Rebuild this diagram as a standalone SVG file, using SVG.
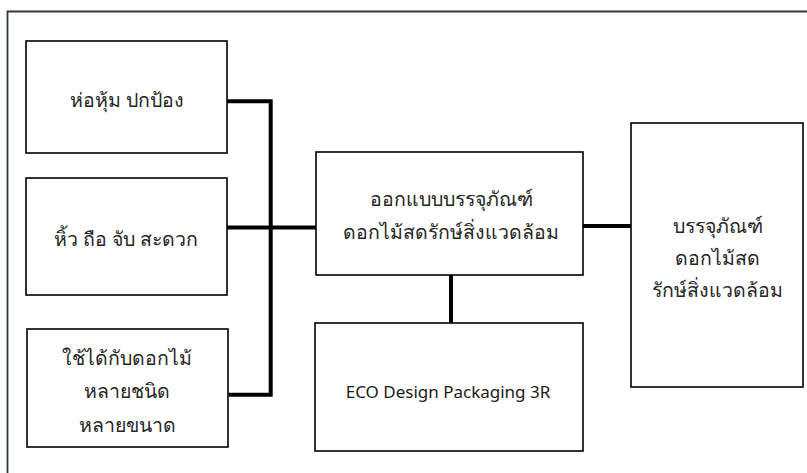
<svg xmlns="http://www.w3.org/2000/svg" width="807" height="473" viewBox="0 0 807 473">
<style>
.box{fill:#fff;stroke:#000;stroke-width:1.6}
.frame{fill:none;stroke:#2b3848;stroke-width:1.8}
.conn{fill:none;stroke:#000;stroke-width:4;stroke-linejoin:miter}
text{font-family:"Noto Sans","DejaVu Sans",sans-serif;font-size:19.5px;font-weight:300;fill:#262626;text-anchor:middle}
text.en{font-size:17px;font-weight:400;fill:#1a1a1a}
</style>
<rect width="807" height="473" fill="#fff"/>
<path class="frame" d="M7.5,473 V11.5 H807"/>
<g id="connectors">
<path class="conn" d="M227,101.3 H270.7 V394.7 H228.5"/>
<path class="conn" d="M227,227.5 H316" stroke-width="3.2"/>
<path class="conn" d="M451,275 V323"/>
<path class="conn" d="M583,226 H631"/>
</g>
<g id="node-protect">
<rect class="box" x="26" y="41" width="201" height="112"/>
<text x="127" y="107">ห่อหุ้ม ปกป้อง</text>
</g>
<g id="node-carry">
<rect class="box" x="26" y="178" width="201" height="117"/>
<text x="126" y="246">หิ้ว ถือ จับ สะดวก</text>
</g>
<g id="node-variety">
<rect class="box" x="27" y="329" width="201" height="118"/>
<text x="127" y="365">ใช้ได้กับดอกไม้</text>
<text x="127" y="398">หลายชนิด</text>
<text x="127" y="432">หลายขนาด</text>
</g>
<g id="node-design">
<rect class="box" x="316" y="152" width="267" height="123"/>
<text x="451" y="206">ออกแบบบรรจุภัณฑ์</text>
<text x="451" y="239">ดอกไม้สดรักษ์สิ่งแวดล้อม</text>
</g>
<g id="node-eco">
<rect class="box" x="315" y="323" width="268" height="128"/>
<text class="en" x="448" y="398">ECO Design Packaging 3R</text>
</g>
<g id="node-result">
<rect class="box" x="631" y="123" width="172" height="264"/>
<text x="717.5" y="233">บรรจุภัณฑ์</text>
<text x="717.5" y="265">ดอกไม้สด</text>
<text x="717.5" y="297">รักษ์สิ่งแวดล้อม</text>
</g>
</svg>
